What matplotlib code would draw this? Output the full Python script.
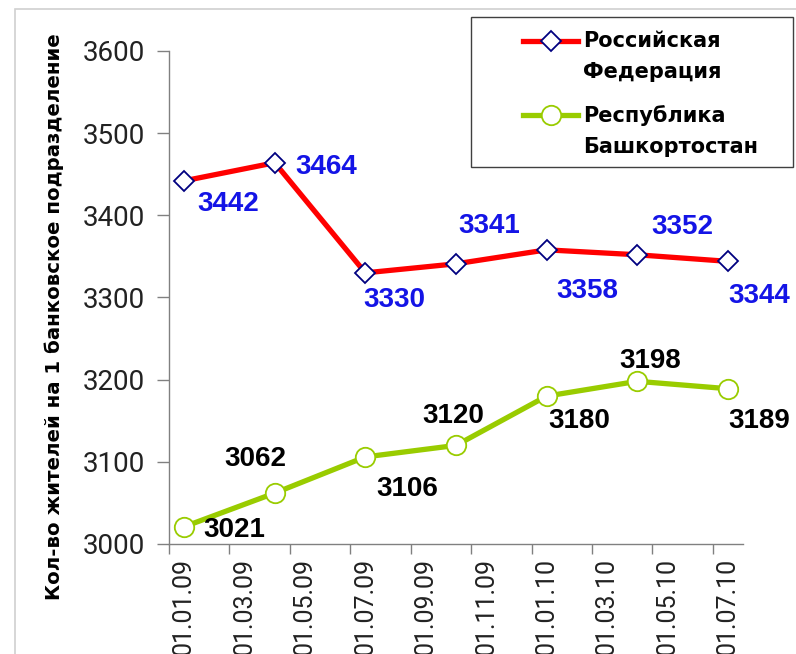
import matplotlib.pyplot as plt
import matplotlib.transforms as mtransforms
from matplotlib.lines import Line2D
from matplotlib.patches import Rectangle
from matplotlib.legend_handler import HandlerLine2D

# === ДАННЫЕ ===
# ось X: месяцы от 01.01.09 (индекс 0) до 01.07.10 (индекс 18)
month_labels = ['01.01.09', '01.03.09', '01.05.09', '01.07.09', '01.09.09',
                '01.11.09', '01.01.10', '01.03.10', '01.05.10', '01.07.10']
point_months = [0, 3, 6, 9, 12, 15, 18]

rf_values = [3442, 3464, 3330, 3341, 3358, 3352, 3344]
rb_values = [3021, 3062, 3106, 3120, 3180, 3198, 3189]

rf_name = 'Российская\nФедерация'
rb_name = 'Республика\nБашкортостан'
y_title = 'Кол-во жителей на 1 банковское подразделение'

# смещения подписей (пиксели)
rf_offsets = [(13, -23), (21, -4), (-2, -27), (2, 38), (10, -41), (14, 28), (0, -35)]
rb_offsets = [(19, -3), (-50, 34), (11, -32), (-34, 29), (2, -25), (-18, 20), (0, -32)]

RED = '#FF0000'
GREEN = '#99CC00'
BLUE = '#1414E6'


class FirstLineHandler(HandlerLine2D):
    # маркер легенды на уровне первой строки подписи, как в Excel
    def __init__(self, shift, **kw):
        super().__init__(**kw)
        self.shift = shift

    def create_artists(self, legend, orig_handle, xdescent, ydescent,
                       width, height, fontsize, trans):
        arts = super().create_artists(legend, orig_handle, xdescent, ydescent,
                                      width, height, fontsize, trans)
        t = mtransforms.Affine2D().translate(0, self.shift) + trans
        for a in arts:
            a.set_transform(t)
        return arts


plt.rcParams['font.family'] = ['Liberation Sans', 'DejaVu Sans']

fig = plt.figure(figsize=(7.96, 6.54), dpi=100)
# рамка области диаграммы
fig.patches.append(Rectangle((15 / 796, -0.1), 1.0, 1 - 9 / 654 + 0.1,
                             transform=fig.transFigure, fill=False,
                             edgecolor='#D0D0D0', linewidth=1.2))

ax = fig.add_axes([169 / 796, 1 - 544 / 654, (743 - 169) / 796, (544 - 51) / 654])

ax.plot(point_months, rf_values, color=RED, linewidth=3.8, marker='D',
        markersize=10, markerfacecolor='white', markeredgecolor='#000080',
        markeredgewidth=1.3, zorder=3)
ax.plot(point_months, rb_values, color=GREEN, linewidth=3.8, marker='o',
        markersize=14, markerfacecolor='white', markeredgecolor=GREEN,
        markeredgewidth=1.3, zorder=3)

for m, v, (dx, dy) in zip(point_months, rf_values, rf_offsets):
    ax.annotate(str(v), (m, v), xytext=(dx, dy), textcoords='offset pixels',
                ha='left', va='center', fontsize=20, fontweight='bold', color=BLUE)
for m, v, (dx, dy) in zip(point_months, rb_values, rb_offsets):
    ax.annotate(str(v), (m, v), xytext=(dx, dy), textcoords='offset pixels',
                ha='left', va='center', fontsize=20, fontweight='bold', color='black')

ax.set_xlim(-0.5, 18.5)
ax.set_ylim(3000, 3600)
ax.set_yticks([3000, 3100, 3200, 3300, 3400, 3500, 3600])

# деления на границах месяцев, подписи в центре месяцев
ax.set_xticks([i - 0.5 for i in range(0, 19, 2)])
ax.set_xticklabels([])
ax.set_xticks(list(range(0, 19, 2)), minor=True)
ax.set_xticklabels(month_labels, minor=True, rotation=90, fontsize=18,
                   fontfamily='Roboto', color='#222222', va='top')
ax.tick_params(axis='x', which='major', length=7, width=1, color='#808080')
ax.tick_params(axis='x', which='minor', length=0, pad=10)
ax.tick_params(axis='y', length=9, width=1, color='#808080', labelsize=20, pad=8)
for lbl in ax.get_yticklabels():
    lbl.set_fontfamily('Roboto')
    lbl.set_color('#222222')

for s in ['top', 'right']:
    ax.spines[s].set_visible(False)
for s in ['left', 'bottom']:
    ax.spines[s].set_color('#808080')
    ax.spines[s].set_linewidth(1)

fig.text(54 / 796, 1 - 317 / 654, y_title, rotation=90, ha='center', va='center',
         fontsize=14.2, fontweight='bold', fontfamily='DejaVu Sans')

# легенда: рамка отдельно, записи без рамки
fig.patches.append(Rectangle((471 / 796, 1 - 167 / 654), (793 - 471) / 796, 150 / 654,
                             transform=fig.transFigure, fill=True, facecolor='white',
                             edgecolor='#404040', linewidth=1, zorder=5))
handles = [
    Line2D([], [], color=RED, linewidth=3.8, marker='D', markersize=10,
           markerfacecolor='white', markeredgecolor='#000080', markeredgewidth=1.3),
    Line2D([], [], color=GREEN, linewidth=3.8, marker='o', markersize=14,
           markerfacecolor='white', markeredgecolor=GREEN, markeredgewidth=1.3),
]
leg = fig.legend(handles, [rf_name, rb_name], loc='upper left',
                 bbox_to_anchor=(523 / 796, 1 - 31 / 654), frameon=False,
                 prop={'size': 15, 'weight': 'bold', 'family': 'DejaVu Sans'},
                 handlelength=2.64, handletextpad=0.24, labelspacing=1.1,
                 borderpad=0, borderaxespad=0,
                 handler_map={h: FirstLineHandler(12) for h in handles})
leg.set_zorder(6)
for t in leg.get_texts():
    t.set_linespacing(1.7)

fig.savefig('out.png', dpi=100)
